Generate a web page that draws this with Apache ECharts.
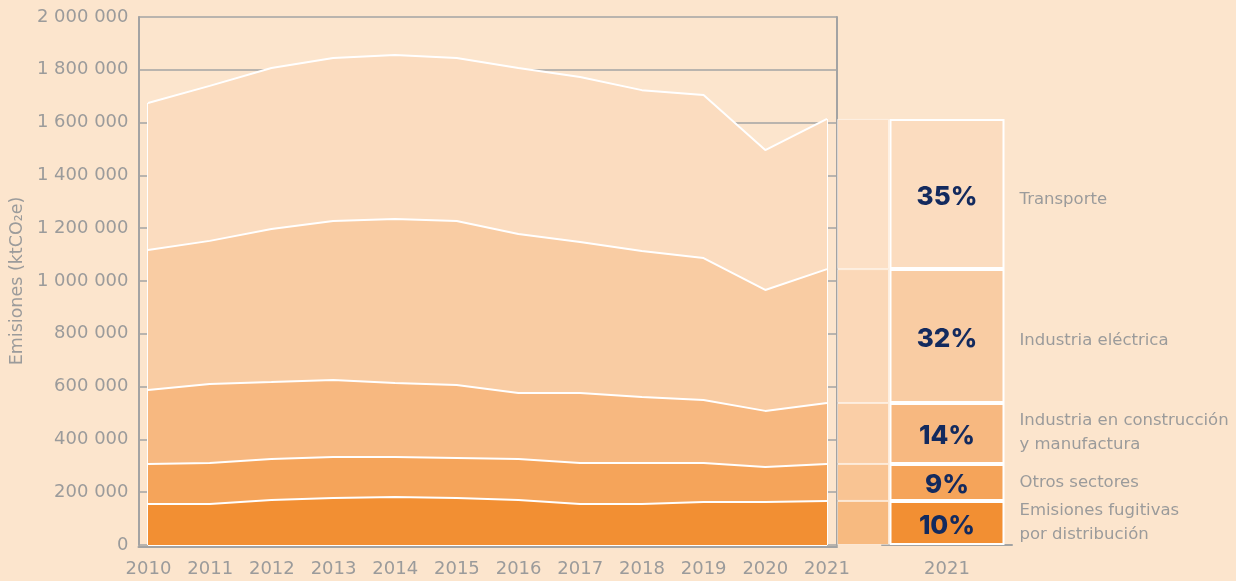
<!DOCTYPE html>
<html>
<head>
<meta charset="utf-8">
<script src="https://cdn.jsdelivr.net/npm/echarts@6/dist/echarts.min.js"></script>
<style>
html,body{margin:0;padding:0;background:#fce5cd;}
#c{width:1236px;height:581px;}
</style>
</head>
<body>
<div id="c"></div>
<script>
const years = [2010,2011,2012,2013,2014,2015,2016,2017,2018,2019,2020,2021];
const fugitivas    = [155000,155000,170000,178000,182000,178000,170000,155000,155000,163000,163000,167000];
const otros        = [152000,156000,156000,155000,151000,152000,156000,156000,156000,148000,132000,140000];
const construccion = [280000,299000,291000,292000,281000,276000,250000,265000,250000,238000,213000,231000];
const electrica    = [530000,542000,580000,602000,621000,621000,602000,572000,553000,538000,458000,507000];
const transporte   = [557000,587000,610000,618000,621000,618000,629000,625000,609000,618000,530000,569000];
const seriesNames  = ['Emisiones fugitivas\npor distribución','Otros sectores','Industria en construcción\ny manufactura','Industria eléctrica','Transporte'];
const shareLabels  = ['10%','9%','14%','32%','35%'];
const barCategory  = ['2021'];
const yTicks = {min:0, max:2000000, interval:200000};

const colors = ['#f28f33','#f5a45a','#f7b880','#f9cca3','#fbdcbf'];
const seriesData = [fugitivas, otros, construccion, electrica, transporte];
const gray = '#a3a3a3';
const txt = '#9b9b9b';
const FONT = '"DejaVu Sans", sans-serif';
const BOLD = 'Inter, Roboto, sans-serif';
const nameOffsets = [[0,0],[0,0],[0,-1],[0,5],[0,6]];

const cats = years.map(String);
const totals = years.map((y,i)=>seriesData.reduce((s,a)=>s+a[i],0));
const last = years.length-1;

const fmt = v => String(v).replace(/\B(?=(\d{3})+(?!\d))/g,' ');

const series = [];
seriesData.forEach((arr,k)=>{
  const s = {
    name: seriesNames[k], type:'line', stack:'total', xAxisIndex:3, yAxisIndex:4,
    symbol:'none', z: 20-k,
    lineStyle:{color:'#ffffff', width:2},
    areaStyle:{color:colors[k], opacity:1},
    data: arr.slice(),
    silent:true
  };
  if(k===0){
    s.markLine = {
      symbol:'none', silent:true, label:{show:false},
      lineStyle:{color:'#ffffff', width:2, type:'solid'},
      data:[
        [{coord:[cats[0],0]},{coord:[cats[0],totals[0]]}],
        [{coord:[cats[last],0]},{coord:[cats[last],totals[last]]}],
        [{coord:[cats[0],0]},{coord:[cats[last],0]}]
      ]
    };
  }
  series.push(s);
});
// connector band
seriesData.forEach((arr,k)=>{
  series.push({
    type:'bar', stack:'band', xAxisIndex:1, yAxisIndex:1, barWidth:'100%',
    itemStyle:{color:colors[k], opacity:0.5, borderColor:'#ffffff', borderWidth:1},
    data:[arr[last]], silent:true
  });
});
// 2021 bar with shares
seriesData.forEach((arr,k)=>{
  series.push({
    type:'bar', stack:'share', xAxisIndex:2, yAxisIndex:2, barWidth:115, barGap:'-100%',
    itemStyle:{color:colors[k], borderColor:'#ffffff', borderWidth:2},
    label:{show:true, position:'inside', offset:[0,3], formatter:()=>shareLabels[k],
      color:'#132a5e', fontFamily:BOLD, fontWeight:800, fontSize:26},
    data:[arr[last]], silent:true, z:5
  });
});
// names to the right of bar
seriesData.forEach((arr,k)=>{
  series.push({
    type:'bar', stack:'names', xAxisIndex:2, yAxisIndex:2, barWidth:115, barGap:'-100%',
    itemStyle:{color:'rgba(0,0,0,0)'},
    label:{show:true, position:'right', distance:15, offset:nameOffsets[k], formatter:()=>seriesNames[k],
      color:txt, fontFamily:FONT, fontSize:16.5, lineHeight:24, align:'left'},
    data:[arr[last]], silent:true, z:1
  });
});

const chart = echarts.init(document.getElementById('c'), null, {renderer:'canvas'});
chart.setOption({
  backgroundColor:'#fce5cd',
  animation:false,
  grid:[
    {left:138, width:699, top:17, bottom:36},
    {left:837, width:52, top:17, bottom:36},
    {left:882, width:130, top:17, bottom:36},
    {left:148, width:679, top:17, bottom:36}
  ],
  xAxis:[
    {gridIndex:0, type:'value', min:years[0]-10/61.73, max:years[last]+10/61.73,
      splitLine:{show:false}, axisTick:{show:false}, offset:2,
      axisLine:{show:true, onZero:false, lineStyle:{color:gray, width:2}},
      axisLabel:{customValues:years, formatter:v=>String(v), color:txt, fontFamily:FONT, fontSize:18, margin:13}},
    {gridIndex:1, type:'category', data:barCategory, show:false},
    {gridIndex:2, type:'category', data:barCategory, offset:2,
      axisTick:{show:false},
      axisLine:{show:true, lineStyle:{color:gray, width:2}},
      axisLabel:{color:txt, fontFamily:FONT, fontSize:18, margin:13}},
    {gridIndex:3, type:'category', data:cats, boundaryGap:false, show:false}
  ],
  yAxis:[
    {gridIndex:0, type:'value', min:yTicks.min, max:yTicks.max, interval:yTicks.interval,
      name:'Emisiones (ktCO₂e)', nameLocation:'middle', nameGap:111,
      nameTextStyle:{color:txt, fontFamily:FONT, fontSize:17.5},
      axisLine:{show:true, lineStyle:{color:gray, width:2}},
      axisTick:{show:false},
      splitLine:{show:true, lineStyle:{color:gray, width:1.5}},
      axisLabel:{formatter:fmt, color:txt, fontFamily:FONT, fontSize:18, margin:10}},
    {gridIndex:1, type:'value', min:yTicks.min, max:yTicks.max, show:false},
    {gridIndex:2, type:'value', min:yTicks.min, max:yTicks.max, show:false},
    {gridIndex:0, type:'value', position:'right', min:yTicks.min, max:yTicks.max,
      axisLine:{show:true, lineStyle:{color:gray, width:2}},
      axisTick:{show:false}, axisLabel:{show:false}, splitLine:{show:false}},
    {gridIndex:3, type:'value', min:yTicks.min, max:yTicks.max, show:false}
  ],
  series: series
});
</script>
</body>
</html>
